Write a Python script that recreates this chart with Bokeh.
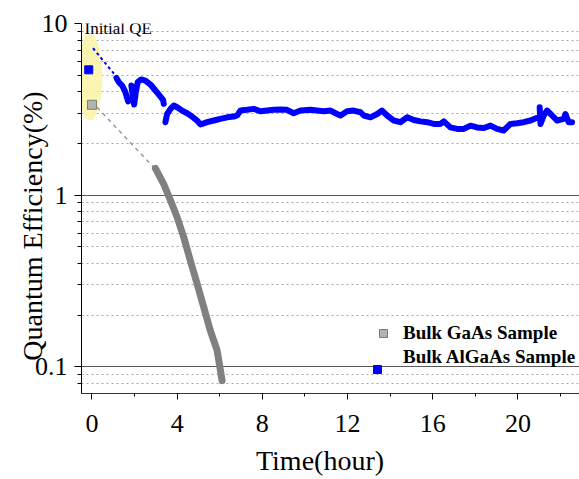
import numpy as np
from bokeh.plotting import figure
from bokeh.models import (FixedTicker, Label, Legend, LegendItem, Range1d,
                          NumeralTickFormatter)
from bokeh.embed import file_html
from bokeh.resources import INLINE

# ---------------- data ----------------
x_ticks = [0, 4, 8, 12, 16, 20]
x_minor = [2, 6, 10, 14, 18, 22]
y_ticks = [0.1, 1, 10]
y_minor = [0.08, 0.09, 0.2, 0.3, 0.4, 0.5, 0.6, 0.7, 0.8, 0.9,
           2, 3, 4, 5, 6, 7, 8, 9]

# initial QE points
init_gaas_t = [0.0]
init_gaas_qe = [3.36]
init_algaas_t = [-0.15]
init_algaas_qe = [5.37]

# dashed connectors (initial -> start of measurement)
gaas_link_t = [0.24, 2.90]
gaas_link_qe = [3.25, 1.45]
algaas_link_t = [0.05, 1.10]
algaas_link_qe = [7.18, 4.98]

# Bulk GaAs sample decay
gaas_t = [2.98, 3.37, 3.69, 4.00, 4.31, 4.62, 4.94, 5.25, 5.56, 5.88, 6.11]
gaas_qe = [1.43, 1.16, 0.93, 0.743, 0.568, 0.415, 0.303, 0.222, 0.162, 0.124, 0.083]

# Bulk AlGaAs sample (several measurement segments)
al1_t = [1.15, 1.26, 1.42, 1.57, 1.70]
al1_qe = [4.82, 4.55, 4.35, 3.98, 3.52]
al2_t = [1.85, 1.93, 1.98, 2.06, 2.15, 2.31, 2.51, 2.75, 2.98, 3.18, 3.34, 3.37]
al2_qe = [4.35, 3.72, 3.37, 3.98, 4.55, 4.72, 4.65, 4.41, 4.07, 3.80, 3.59, 3.40]
al3_t = [3.45, 3.53, 3.69, 3.84, 4.00, 4.23, 4.47, 4.70, 4.94, 5.09,
         5.25, 5.41, 5.72, 6.03, 6.35, 6.66, 6.82, 6.97, 7.28, 7.60,
         7.91, 8.22, 8.54, 8.85, 9.16, 9.47, 9.79, 10.26, 10.57, 10.88,
         11.20, 11.51, 11.67, 11.98, 12.29, 12.61, 12.76, 13.08, 13.39, 13.62,
         13.86, 14.17, 14.48, 14.80, 15.11, 15.42, 15.74, 16.05, 16.36, 16.52,
         16.83, 17.15, 17.46, 17.77, 18.08, 18.40, 18.71, 19.02, 19.33, 19.65,
         19.96, 20.27, 20.59, 20.90]
al3_qe = [2.66, 2.97, 3.18, 3.33, 3.25, 3.11, 3.00, 2.87, 2.72, 2.58,
          2.62, 2.66, 2.72, 2.78, 2.84, 2.87, 2.91, 3.11, 3.14, 3.18,
          3.08, 3.11, 3.14, 3.15, 3.14, 3.00, 3.11, 3.14, 3.11, 3.08,
          3.11, 2.97, 2.91, 3.08, 3.11, 3.04, 2.91, 2.84, 2.97, 3.11,
          2.91, 2.72, 2.66, 2.84, 2.74, 2.69, 2.66, 2.60, 2.60, 2.69,
          2.48, 2.43, 2.43, 2.54, 2.48, 2.46, 2.54, 2.43, 2.38, 2.60,
          2.62, 2.66, 2.72, 2.82]
al4_t = [21.02, 21.06, 21.21, 21.37, 21.53, 21.84, 22.15, 22.23, 22.38, 22.54]
al4_qe = [3.25, 2.60, 2.91, 3.11, 2.97, 2.72, 2.78, 2.97, 2.66, 2.66]

labels = ["Bulk GaAs Sample", "Bulk AlGaAs Sample"]
x_title = "Time(hour)"
y_title = "Quantum Efficiency(%)"

# ---------------- figure ----------------
SERIF = "Liberation Serif"
NBSP = "\u00a0"
p = figure(width=579, height=479, y_axis_type="log",
           x_range=Range1d(-0.49, 22.89), y_range=Range1d(0.0698, 10),
           output_backend="svg", toolbar_location=None,
           min_border_left=81, min_border_right=0,
           min_border_top=23, min_border_bottom=86)
p.outline_line_color = None
p.background_fill_color = "white"

p.xgrid.visible = False
p.ygrid.ticker = FixedTicker(ticks=[0.1, 1], minor_ticks=y_minor)
p.ygrid.grid_line_color = "#5a5a5a"
p.ygrid.grid_line_width = 1
p.ygrid.minor_grid_line_color = "#a6a6a6"
p.ygrid.minor_grid_line_dash = "2 3"
p.ygrid.minor_grid_line_width = 1

p.xaxis.ticker = FixedTicker(ticks=x_ticks, minor_ticks=x_minor)
p.yaxis.ticker = FixedTicker(ticks=y_ticks, minor_ticks=y_minor)
p.yaxis.formatter = NumeralTickFormatter(format="0.[0]")

for ax in (p.xaxis, p.yaxis):
    ax.axis_line_color = "black"
    ax.axis_line_width = 1
    ax.major_tick_line_color = "black"
    ax.minor_tick_line_color = "black"
    ax.major_tick_in = 0
    ax.minor_tick_in = 0
    ax.major_label_text_font = SERIF
    ax.major_label_text_font_size = "26px"
    ax.major_label_text_color = "black"
    ax.axis_label_text_font = SERIF
    ax.axis_label_text_font_size = "28px"
    ax.axis_label_text_font_style = "normal"
    ax.axis_label_text_color = "black"
p.xaxis.major_tick_out = 6
p.xaxis.minor_tick_out = 3
p.xaxis.major_label_standoff = 15
p.xaxis.axis_line_color = "#333333"
p.xaxis.axis_label = x_title + NBSP * 3
p.xaxis.axis_label_standoff = 10
p.yaxis.major_tick_out = 7
p.yaxis.minor_tick_out = 4
p.yaxis.major_label_standoff = 7
p.yaxis.axis_label = y_title + NBSP * 5
p.yaxis.axis_label_standoff = -16

# highlight ellipse around initial QE
p.ellipse(x=[-0.1], y=[4.88], width=25, height=87,
          width_units="screen", height_units="screen",
          fill_color="#f9f5a8", fill_alpha=0.9, line_color=None)

# dashed connectors
p.line(gaas_link_t, gaas_link_qe, line_color="#9a9a9a", line_width=1.5,
       line_dash="4 4")
p.line(algaas_link_t, algaas_link_qe, line_color="#0000ff", line_width=2,
       line_dash="3 3")

# GaAs series
p.line(gaas_t, gaas_qe, line_color="#808080", line_width=7,
       line_cap="round", line_join="round")

# AlGaAs series (segments separated by NaN breaks)
al_t = al1_t + [np.nan] + al2_t + [np.nan] + al3_t + [np.nan] + al4_t
al_qe = al1_qe + [np.nan] + al2_qe + [np.nan] + al3_qe + [np.nan] + al4_qe
p.line(al_t, al_qe, line_color="#0000ff", line_width=6,
       line_cap="round", line_join="round")

# initial points
r_gaas = p.scatter(init_gaas_t, init_gaas_qe, marker="square", size=9,
                   fill_color="#b3b3b3", line_color="#7a7a7a", line_width=1)
r_al = p.scatter(init_algaas_t, init_algaas_qe, marker="square", size=8,
                 fill_color="#0000ff", line_color="#0000ff")
r_blank = p.scatter([], [], marker="square", fill_alpha=0, line_alpha=0)

# legend
leg1 = Legend(items=[LegendItem(label=labels[0], renderers=[r_gaas]),
                     LegendItem(label=labels[1], renderers=[r_blank])],
              location=(292, 24), padding=0, spacing=0, margin=0,
              glyph_width=20, glyph_height=24, label_height=24,
              label_standoff=10,
              label_text_font=SERIF, label_text_font_size="19px",
              label_text_font_style="bold", label_text_color="black",
              border_line_color=None, background_fill_alpha=0)
leg2 = Legend(items=[LegendItem(label=" ", renderers=[r_al])],
              location=(286, 12), padding=0, spacing=0, margin=0,
              glyph_width=20, glyph_height=24, label_height=24,
              label_standoff=0, label_text_font_size="6px",
              border_line_color=None, background_fill_alpha=0)
p.add_layout(leg1)
p.add_layout(leg2)

# annotation
p.add_layout(Label(x=-0.35, y=9.35, text="Initial QE", text_font=SERIF,
                   text_font_size="17px", text_color="black",
                   text_baseline="alphabetic", text_align="left"))

open("out.html", "w").write(file_html(p, INLINE))
